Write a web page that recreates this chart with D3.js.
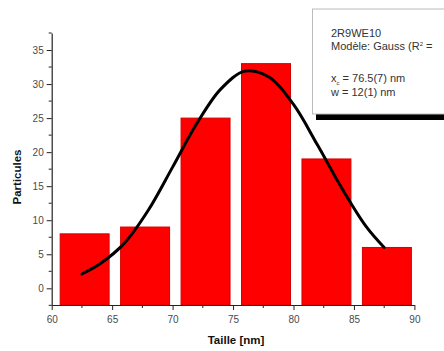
<!DOCTYPE html>
<html>
<head>
<meta charset="utf-8">
<script src="https://cdn.jsdelivr.net/npm/d3@7"></script>
<style>
  html, body { margin: 0; padding: 0; background: #fff; overflow: hidden; }
  svg { display: block; font-family: "Liberation Sans", Arial, sans-serif; }
</style>
</head>
<body>
<svg id="chart" width="444" height="351"></svg>
<script>
// ---- data ----
const binStarts = [60, 65, 70, 75, 80, 85];
const counts = [8, 9, 25, 33, 19, 6];
const fitX = [62.5, 64, 66, 68, 70, 72, 74, 76, 78, 80, 82, 84, 86, 87.5];
const fitY = [2.1, 3.6, 6.6, 11.5, 17.8, 24.2, 29.3, 31.9, 31.0, 27.0, 21.0, 14.7, 9.1, 6.0];
const xTicks = [60, 65, 70, 75, 80, 85, 90];
const xMinor = [62.5, 67.5, 72.5, 77.5, 82.5, 87.5];
const yTicks = [0, 5, 10, 15, 20, 25, 30, 35];
const yMinor = [-2.5, 2.5, 7.5, 12.5, 17.5, 22.5, 27.5, 32.5, 37.5];
const legendLines = ["2R9WE10", "Modèle: Gauss (R² =", "", "x_c = 76.5(7) nm", "w = 12(1) nm"];

// ---- layout ----
const svg = d3.select("#chart");
const x = d3.scaleLinear().domain([60, 90]).range([51.7, 414.4]);
const y = d3.scaleLinear().domain([-2.45, 37.5]).range([305, 33]);
const axisColor = "#222";
const labelColor = "#4a4a4a";

// bars
svg.append("g").selectAll("rect").data(binStarts).join("rect")
  .attr("x", d => x(d + 0.7))
  .attr("width", d => x(d + 4.75) - x(d + 0.7))
  .attr("y", (d, i) => y(counts[i]))
  .attr("height", (d, i) => y.range()[0] - y(counts[i]))
  .attr("fill", "#ff0000")
  .attr("stroke", "#d40000")
  .attr("stroke-width", 1);

// x axis
const gx = svg.append("g").attr("transform", `translate(0,${y.range()[0]})`);
gx.call(d3.axisBottom(x).tickValues(xTicks).tickSize(5).tickSizeOuter(0).tickFormat(d3.format("d")));
gx.append("g").selectAll("line").data(xMinor).join("line")
  .attr("x1", d => x(d)).attr("x2", d => x(d)).attr("y1", 0).attr("y2", 3)
  .attr("stroke", axisColor);
gx.selectAll(".domain").attr("stroke", axisColor).attr("stroke-width", 1.2);
gx.selectAll(".tick line").attr("stroke", axisColor);
gx.selectAll(".tick text").attr("fill", labelColor).attr("font-size", 10).attr("dy", "0.95em")
  .attr("font-family", "Liberation Sans, Arial, sans-serif");

// y axis
const gy = svg.append("g").attr("transform", `translate(${x.range()[0]},0)`);
gy.call(d3.axisLeft(y).tickValues(yTicks).tickSize(5).tickSizeOuter(0).tickFormat(d3.format("d")));
gy.append("g").selectAll("line").data(yMinor).join("line")
  .attr("y1", d => y(d)).attr("y2", d => y(d)).attr("x1", 0).attr("x2", -3)
  .attr("stroke", axisColor);
gy.selectAll(".domain").attr("stroke", axisColor).attr("stroke-width", 1.2);
gy.selectAll(".tick line").attr("stroke", axisColor);
gy.selectAll(".tick text").attr("fill", labelColor).attr("font-size", 10)
  .attr("font-family", "Liberation Sans, Arial, sans-serif");

// fit curve
const pts = fitX.map((v, i) => [v, fitY[i]]);
svg.append("path").datum(pts)
  .attr("fill", "none").attr("stroke", "#000").attr("stroke-width", 3)
  .attr("stroke-linecap", "round")
  .attr("d", d3.line().x(d => x(d[0])).y(d => y(d[1])).curve(d3.curveCatmullRom.alpha(0.5)));

// axis titles
svg.append("text").attr("x", 236).attr("y", 344).attr("text-anchor", "middle")
  .attr("font-weight", "bold").attr("font-size", 11.5).attr("fill", "#111").text("Taille [nm]");
svg.append("text").attr("transform", "translate(21,177) rotate(-90)").attr("text-anchor", "middle")
  .attr("font-weight", "bold").attr("font-size", 11.5).attr("fill", "#111").text("Particules");

// legend box (extends past the right edge, as in the reference)
const lg = svg.append("g");
lg.append("rect").attr("x", 316).attr("y", 13).attr("width", 160).attr("height", 107).attr("fill", "#000");
lg.append("rect").attr("x", 312.5).attr("y", 9).attr("width", 160).attr("height", 105)
  .attr("fill", "#fff").attr("stroke", "#bbb").attr("stroke-width", 1);
const lineYs = [37, 50, 0, 82, 96];
legendLines.forEach((t, i) => {
  if (!t) return;
  const tx = lg.append("text").attr("x", 331).attr("y", lineYs[i])
    .attr("font-size", 11).attr("fill", "#333");
  if (t.startsWith("x_c")) {
    tx.append("tspan").text("x");
    tx.append("tspan").attr("font-size", 6).attr("dy", 3).text("c");
    tx.append("tspan").attr("dy", -3).text(t.slice(3));
  } else if (t.includes("R²")) {
    const parts = t.split("R²");
    tx.append("tspan").text(parts[0] + "R");
    tx.append("tspan").attr("font-size", 6).attr("dy", -4).text("2");
    tx.append("tspan").attr("dy", 4).text(parts[1]);
  } else {
    tx.text(t);
  }
});
</script>
</body>
</html>
